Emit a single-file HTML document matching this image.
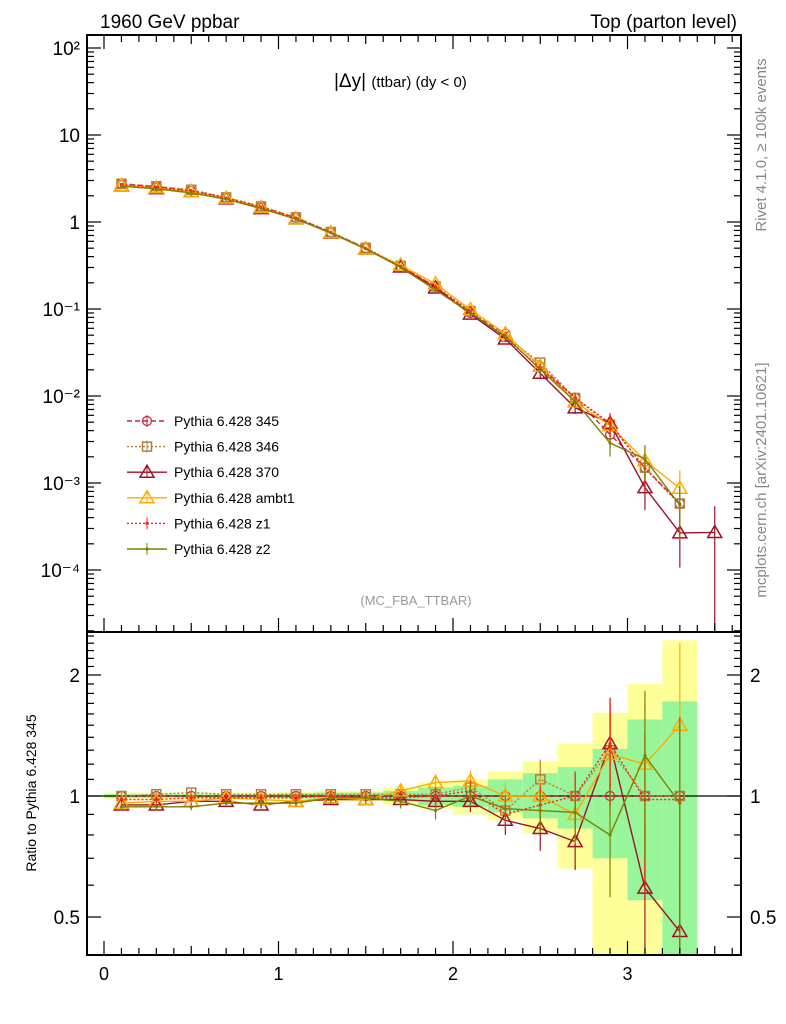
<!DOCTYPE html>
<html><head><meta charset="utf-8"><style>
body{margin:0;background:#fff;}
svg{display:block;font-family:"Liberation Sans",sans-serif;}
</style></head><body>
<svg id="chart" width="786" height="1024" viewBox="0 0 786 1024" xmlns="http://www.w3.org/2000/svg">
<text x="100" y="28" font-size="19">1960 GeV ppbar</text>
<text x="737" y="28" font-size="19" text-anchor="end">Top (parton level)</text>
<text x="334" y="87" font-size="19">|Δy| <tspan font-size="15">(ttbar) (dy &lt; 0)</tspan></text>
<text x="416" y="605" font-size="13" fill="#999" text-anchor="middle">(MC_FBA_TTBAR)</text>
<text transform="translate(766,145) rotate(-90)" font-size="15" fill="#888" text-anchor="middle">Rivet 4.1.0, ≥ 100k events</text>
<text transform="translate(766,480) rotate(-90)" font-size="15" fill="#888" text-anchor="middle">mcplots.cern.ch [arXiv:2401.10621]</text>
<text transform="translate(36,793) rotate(-90)" font-size="14" text-anchor="middle">Ratio to Pythia 6.428 345</text>
<g id="g"></g>
</svg>
<script>
const xs=[0.1,0.3,0.5,0.7,0.9,1.1,1.3,1.5,1.7,1.9,2.1,2.3,2.5,2.7,2.9,3.1,3.3];
const ref345=[2.75,2.55,2.3,1.9,1.5,1.12,0.76,0.5,0.31,0.18,0.09,0.052,0.022,0.0095,0.0036,0.0015,0.00058];
const r346=[1.0,1.01,1.02,1.01,1.01,1.01,1.01,1.01,1.01,1.01,1.05,0.92,1.1,1.0,1.3,1.0,1.0];
const r370=[0.95,0.95,0.97,0.97,0.95,0.97,0.98,0.98,0.98,0.97,0.97,0.87,0.83,0.77,1.35,0.59,0.46];
const rAmbt1=[0.96,0.97,0.97,0.99,0.98,0.97,0.99,0.98,1.03,1.08,1.09,1.0,1.0,0.9,1.27,1.2,1.5];
const rZ1=[0.98,0.98,0.99,0.99,0.99,0.99,1.0,0.99,0.99,1.0,1.03,0.9,0.95,1.0,1.35,0.98,0.98];
const rZ2=[0.94,0.94,0.94,0.96,0.96,0.96,0.99,0.99,0.97,0.92,1.0,0.93,0.92,0.91,0.8,1.26,0.96];
const extra370x=3.5, extra370v=0.00027;
const relErr=[0.02,0.02,0.02,0.02,0.02,0.02,0.03,0.03,0.04,0.05,0.06,0.08,0.12,0.15,0.3,0.45,0.6];
const yelHi=[1.02,1.02,1.02,1.02,1.02,1.025,1.03,1.03,1.05,1.08,1.1,1.15,1.22,1.35,1.61,1.9,2.44];
const yelLo=[0.98,0.98,0.98,0.98,0.98,0.975,0.97,0.97,0.95,0.93,0.9,0.87,0.81,0.66,0.3,0.3,0.3];
const grnHi=[1.01,1.01,1.01,1.01,1.01,1.015,1.02,1.02,1.03,1.05,1.06,1.1,1.14,1.18,1.31,1.55,1.72];
const grnLo=[0.99,0.99,0.99,0.99,0.99,0.985,0.98,0.98,0.97,0.95,0.94,0.91,0.88,0.83,0.70,0.55,0.3];
const mainTicks=["10²","10","1","10⁻¹","10⁻²","10⁻³","10⁻⁴"];
const xTicks=["0","1","2","3"];
const ratioTicks=["2","1","0.5"];

const NS="http://www.w3.org/2000/svg";
const G=document.getElementById('g');
function el(t,a,p){const e=document.createElementNS(NS,t);for(const k in a)e.setAttribute(k,a[k]);(p||G).appendChild(e);return e;}
const L=87,R=741,T=35,M=632,B=955;
const X=v=>104+v*174.5;
const Y=v=>222-87*Math.log10(v);
const YR=r=>796-121*Math.log2(r);
const clipM=(y)=>Math.max(T,Math.min(M,y));
const clipR=(y)=>Math.max(M,Math.min(B,y));

xs.forEach((x,i)=>{
  const b=el('rect',{x:X(x-0.1),width:X(x+0.1)-X(x-0.1),y:clipR(YR(yelHi[i])),height:clipR(YR(yelLo[i]))-clipR(YR(yelHi[i])),fill:'#ffff99'});
  
  
  const c=el('rect',{x:X(x-0.1),width:X(x+0.1)-X(x-0.1),y:clipR(YR(grnHi[i])),height:clipR(YR(grnLo[i]))-clipR(YR(grnHi[i])),fill:'#99f599'});
  
  
});
el('line',{x1:L,x2:R,y1:YR(1),y2:YR(1),stroke:'#000','stroke-width':1.3});

const series=[
 {name:'345',r:xs.map(()=>1),col:'#cc2040',dash:'5,3',mk:'circle'},
 {name:'346',r:r346,col:'#b08040',dash:'2,2',mk:'square'},
 {name:'370',r:r370,col:'#a0102a',dash:'',mk:'tri'},
 {name:'ambt1',r:rAmbt1,col:'#ffaa00',dash:'',mk:'tri'},
 {name:'z1',r:rZ1,col:'#ff2010',dash:'2,2',mk:'dot'},
 {name:'z2',r:rZ2,col:'#7f8000',dash:'',mk:'dot'}
];
function marker(m,x,y,col,g){
  if(m==='circle')el('circle',{cx:x,cy:y,r:4.5,fill:'none',stroke:col,'stroke-width':1.2},g);
  else if(m==='square')el('rect',{x:x-4.5,y:y-4.5,width:9,height:9,fill:'none',stroke:col,'stroke-width':1.5},g);
  else if(m==='tri')el('polygon',{points:`${x},${y-7} ${x-7},${y+5} ${x+7},${y+5}`,fill:'none',stroke:col,'stroke-width':1.5},g);
  else el('circle',{cx:x,cy:y,r:1.6,fill:col},g);
}
series.forEach(s=>{
  const vals=s.r.map((r,i)=>r*ref345[i]);
  const px=xs.map(X);
  const gm=el('g',{});
  
  
  let ptsM=vals.map((v,i)=>[px[i],Y(v)]);
  if(s.name==='370')ptsM.push([X(extra370x),Y(extra370v)]);
  el('polyline',{points:ptsM.map(p=>p.join(',')).join(' '),fill:'none',stroke:s.col,'stroke-width':1.4,'stroke-dasharray':s.dash},gm);
  vals.forEach((v,i)=>{
    const e=relErr[i];
    el('line',{x1:px[i],x2:px[i],y1:clipM(Y(v*(1+e))),y2:clipM(Y(Math.max(v*(1-e),1e-6))),stroke:s.col,'stroke-width':1.2},gm);
    marker(s.mk,px[i],Y(v),s.col,gm);
  });
  if(s.name==='370'){const x=X(extra370x);el('line',{x1:x,x2:x,y1:Y(extra370v*2),y2:M,stroke:s.col,'stroke-width':1.2},gm);marker('tri',x,Y(extra370v),s.col,gm);}
  const gr=el('g',{});
  
  
  el('polyline',{points:s.r.map((r,i)=>px[i]+','+clipR(YR(r))).join(' '),fill:'none',stroke:s.col,'stroke-width':1.4,'stroke-dasharray':s.dash},gr);
  s.r.forEach((r,i)=>{
    const e=relErr[i];
    if(s.name!=='345')el('line',{x1:px[i],x2:px[i],y1:clipR(YR(r*(1+e))),y2:clipR(YR(Math.max(r*(1-e),0.01))),stroke:s.col,'stroke-width':1.2},gr);
    marker(s.mk,px[i],YR(r),s.col,gr);
  });
});

[[T,M],[M,B]].forEach(([a,b],k)=>{
  const f=el('rect',{x:L,y:a,width:R-L,height:b-a,fill:'none',stroke:'#000','stroke-width':2});
  
  
});
for(let i=-1;i<=36;i++){const v=i/10,x=X(v);if(x<L||x>R)continue;const big=i%10===0,len=big?14:(i%5===0?9:7);
  [M,B].forEach(y=>{el('line',{x1:x,x2:x,y1:y,y2:y-len,stroke:'#000','stroke-width':1.2});});
  el('line',{x1:x,x2:x,y1:T,y2:T+len,stroke:'#000','stroke-width':1.2});}
xTicks.forEach((t,i)=>{const e=el('text',{x:X(i),y:980,'font-size':18,'text-anchor':'middle'});e.textContent=t;
  
  });
for(let d=-5;d<=2;d++){for(let m=1;m<10;m++){const y=Y(m*Math.pow(10,d));if(y<T||y>M)continue;const len=m===1?14:7;
  el('line',{x1:L,x2:L+len,y1:y,y2:y,stroke:'#000','stroke-width':1.2});el('line',{x1:R,x2:R-len,y1:y,y2:y,stroke:'#000','stroke-width':1.2});}}
mainTicks.forEach((t,i)=>{const e=el('text',{x:80,y:Y(Math.pow(10,2-i))+7,'font-size':19,'text-anchor':'end'});e.textContent=t;
  
  });
for(let k=3;k<=25;k++){const r=k/10,y=YR(r);if(y<M||y>B)continue;const big=(k===5||k===10||k===20),len=big?14:7;
  el('line',{x1:L,x2:L+len,y1:y,y2:y,stroke:'#000','stroke-width':1.2});el('line',{x1:R,x2:R-len,y1:y,y2:y,stroke:'#000','stroke-width':1.2});}
ratioTicks.forEach(t=>{const y=YR(parseFloat(t))+7;
  const a=el('text',{x:80,y:y,'font-size':19,'text-anchor':'end'});a.textContent=t;
  
  
  const b=el('text',{x:750,y:y,'font-size':19});b.textContent=t;
  
  });
series.forEach((s,i)=>{const y=421+i*25.6;
  const g=el('g',{});
  
  
  el('line',{x1:127,x2:167,y1:y,y2:y,stroke:s.col,'stroke-width':1.4,'stroke-dasharray':s.dash},g);
  el('line',{x1:147,x2:147,y1:y-6,y2:y+6,stroke:s.col,'stroke-width':1},g);
  marker(s.mk,147,y,s.col,g);
  const t=el('text',{x:174,y:y+5,'font-size':14},g);t.textContent='Pythia 6.428 '+s.name;});
</script>
</body></html>
